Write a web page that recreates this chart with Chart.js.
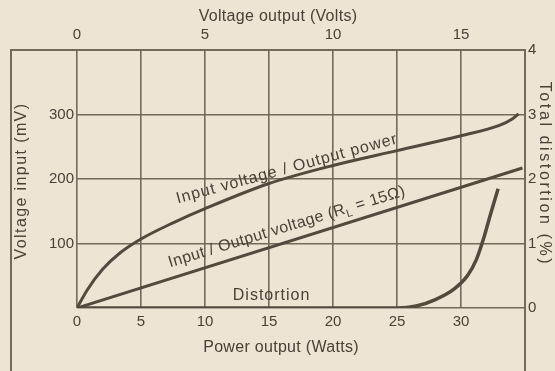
<!DOCTYPE html>
<html>
<head>
<meta charset="utf-8">
<script src="https://cdn.jsdelivr.net/npm/chart.js@4.4.1/dist/chart.umd.min.js"></script>
<style>
  html, body { margin: 0; padding: 0; background: #ede4d3; }
  canvas { display: block; }
</style>
</head>
<body>
<canvas id="amp" width="555" height="371"></canvas>
<script>
// input voltage (mV) needed for a given output power (W)
let powerOut = [0, 0.8, 2, 3.4, 5, 7.5, 10, 15, 20, 25, 30, 33, 34, 34.5];
let inputForPower = [0, 28, 60, 86, 107, 132, 154, 193, 221, 244, 267, 283, 293, 301];

// input voltage (mV) against output voltage (V), 15 ohm load
let voltageOut = [0, 17.4];
let inputForVoltage = [0, 217];

// total distortion (%) against output power (W)
let distPower = [0, 25, 26.5, 28, 29.5, 30.5, 31.2, 31.8, 32.3, 32.9];
let distortion = [0, 0, 0.03, 0.13, 0.3, 0.5, 0.75, 1.1, 1.45, 1.85];

// tick labels that are printed
let powerTicks = [0, 5, 10, 15, 20, 25, 30];
let voltTicks = [0, 5, 10, 15];
let inputTicks = [100, 200, 300];
let distTicks = [0, 1, 2, 3, 4];

let ink = '#4a4038';
let gridInk = '#75685c';
let curveInk = '#54483f';
let paper = '#ede4d3';

function pairs(xs, ys) {
    return xs.map((x, i) => ({ x: x, y: ys[i] }));
}

// spaced-out text, optionally rotated about (x, y)
function label(ctx, text, x, y, angle, size, spacing, baseline) {
    ctx.save();
    ctx.translate(x, y);
    ctx.rotate(angle * Math.PI / 180);
    ctx.font = size + 'px "Liberation Sans"';
    ctx.letterSpacing = spacing + 'px';
    ctx.fillStyle = ink;
    ctx.textAlign = 'center';
    ctx.textBaseline = baseline || 'middle';
    ctx.fillText(text, 0, 0);
    ctx.restore();
}

var framePlugin = {
    id: 'frame',
    beforeDraw: function (chart) {
        let ctx = chart.ctx;
        ctx.save();
        ctx.fillStyle = paper;
        ctx.fillRect(0, 0, chart.width, chart.height);
        ctx.restore();
    },
    afterDatasetsDraw: function (chart) {
        let ctx = chart.ctx;
        let a = chart.chartArea;
        let sx = chart.scales.x, sy = chart.scales.y, sd = chart.scales.y2;

        // outer box: top, left and right edges run past the plot
        ctx.save();
        ctx.strokeStyle = gridInk;
        ctx.lineWidth = 2;
        ctx.beginPath();
        ctx.moveTo(11, chart.height);
        ctx.lineTo(11, a.top);
        ctx.lineTo(a.right, a.top);
        ctx.lineTo(a.right, chart.height);
        ctx.stroke();
        ctx.restore();

        // axis titles
        label(ctx, 'Voltage output (Volts)', 278, 17, 0, 16, 0.3);
        label(ctx, 'Power output (Watts)', 281, 348, 0, 16, 0.3);
        label(ctx, 'Voltage input (mV)', 22, 181, -90, 16, 1.4);
        label(ctx, 'Total distortion (%)', 544, 174, 90, 16, 2.6);

        // curve names, set along the curves
        let p1x = sx.getPixelForValue(16.5), p1y = sy.getPixelForValue(209);
        label(ctx, 'Input voltage / Output power', p1x, p1y, -15.3, 16, 1, 'alphabetic');

        let p2x = sx.getPixelForValue(16.5), p2y = sy.getPixelForValue(119);
        ctx.save();
        ctx.translate(p2x, p2y);
        ctx.rotate(-17 * Math.PI / 180);
        ctx.font = '16px "Liberation Sans"';
        ctx.letterSpacing = '0.4px';
        ctx.fillStyle = ink;
        ctx.textBaseline = 'alphabetic';
        let partA = 'Input / Output voltage (R';
        let partB = ' = 15\u03A9)';
        let wA = ctx.measureText(partA).width;
        let wB = ctx.measureText(partB).width;
        ctx.font = '11px "Liberation Sans"';
        let wL = ctx.measureText('L').width;
        let start = -(wA + wL + wB) / 2;
        ctx.font = '16px "Liberation Sans"';
        ctx.fillText(partA, start, 0);
        ctx.fillText(partB, start + wA + wL, 0);
        ctx.font = '11px "Liberation Sans"';
        ctx.fillText('L', start + wA, 4);
        ctx.restore();

        let p3x = sx.getPixelForValue(15.2), p3y = sd.getPixelForValue(0.12);
        label(ctx, 'Distortion', p3x, p3y, 0, 16, 1, 'alphabetic');
    }
};

let tickFont = { family: 'Liberation Sans', size: 15 };

let chart = new Chart(document.getElementById('amp'), {
    type: 'line',
    data: {
        datasets: [
            {
                data: pairs(powerOut, inputForPower),
                xAxisID: 'x', yAxisID: 'y',
                borderColor: curveInk, borderWidth: 3,
                pointRadius: 0, cubicInterpolationMode: 'monotone'
            },
            {
                data: pairs(voltageOut, inputForVoltage),
                xAxisID: 'x2', yAxisID: 'y',
                borderColor: curveInk, borderWidth: 3,
                pointRadius: 0
            },
            {
                data: pairs(distPower, distortion),
                xAxisID: 'x', yAxisID: 'y2',
                borderColor: curveInk, borderWidth: 3.5,
                pointRadius: 0, cubicInterpolationMode: 'monotone'
            }
        ]
    },
    options: {
        responsive: false,
        animation: false,
        layout: { padding: 0 },
        plugins: {
            legend: { display: false },
            tooltip: { enabled: false }
        },
        scales: {
            x: {
                type: 'linear', position: 'bottom',
                min: 0, max: 35,
                afterFit: s => { s.height = 63; },
                border: { display: false },
                grid: { color: gridInk, lineWidth: 1.6, drawTicks: false },
                ticks: {
                    stepSize: 5, padding: 5, color: ink, font: tickFont, maxRotation: 0,
                    callback: v => powerTicks.includes(v) ? v : ''
                }
            },
            x2: {
                type: 'linear', position: 'top',
                min: 0, max: 17.5,
                afterFit: s => { s.height = 50; },
                border: { display: false },
                grid: { display: false, drawTicks: false },
                ticks: {
                    stepSize: 5, padding: 6, color: ink, font: tickFont, maxRotation: 0,
                    callback: v => voltTicks.includes(v) ? v : ''
                }
            },
            y: {
                type: 'linear', position: 'left',
                min: 0, max: 400,
                afterFit: s => { s.width = 77; },
                border: { display: false },
                grid: { color: gridInk, lineWidth: 1.6, drawTicks: false },
                ticks: {
                    stepSize: 100, padding: 3, color: ink, font: tickFont,
                    callback: v => inputTicks.includes(v) ? v : ''
                }
            },
            y2: {
                type: 'linear', position: 'right',
                min: 0, max: 4,
                afterFit: s => { s.width = 30; },
                border: { display: false },
                grid: { display: false, drawTicks: false },
                ticks: {
                    stepSize: 1, padding: 3, color: ink, font: tickFont,
                    callback: v => distTicks.includes(v) ? v : ''
                }
            }
        }
    },
    plugins: [framePlugin]
});
</script>
</body>
</html>
